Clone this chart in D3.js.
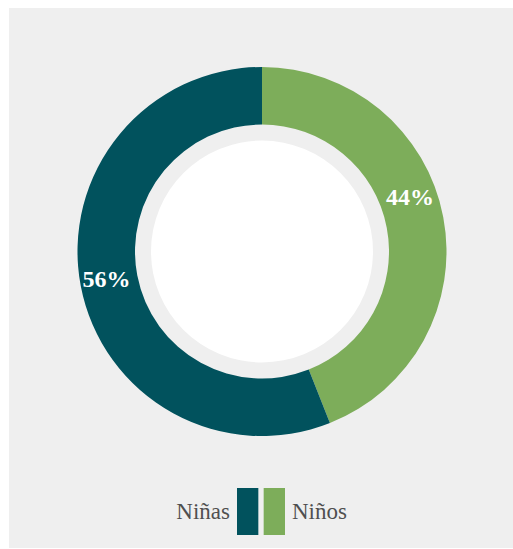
<!DOCTYPE html>
<html>
<head>
<meta charset="utf-8">
<script src="https://cdn.jsdelivr.net/npm/d3@7"></script>
<style>
  body { margin: 0; background: #fff; }
</style>
</head>
<body>
<svg class="chart" width="513" height="549"></svg>
<script>
const categories = ['Niños', 'Niñas'];
const values = [44, 56];
const colors = ['#7dad5a', '#01525d'];
const legendOrder = ['Niñas', 'Niños'];

const svg = d3.select('.chart');
const cx = 262;
const cy = 251.5;
const outerR = 184.5;
const innerR = 127;

// grey panel
svg.append('rect')
  .attr('x', 9).attr('y', 8)
  .attr('width', 504).attr('height', 540)
  .attr('fill', '#efefef');

const color = d3.scaleOrdinal().domain(categories).range(colors);

const pie = d3.pie().sort(null).value(d => d.value);
const arcs = pie(categories.map((c, i) => ({ name: c, value: values[i] })));

const arc = d3.arc().innerRadius(innerR).outerRadius(outerR);
const labelArc = d3.arc().innerRadius(innerR + 2).outerRadius(outerR + 2);

const g = svg.append('g').attr('transform', `translate(${cx}, ${cy})`);

g.selectAll('path.slice')
  .data(arcs)
  .enter()
  .append('path')
  .attr('class', 'slice')
  .attr('fill', d => color(d.data.name))
  .attr('d', arc);

// white centre
g.append('circle').attr('r', 111).attr('fill', '#fff');

// excel nudged the small slice's label up a bit
const labelShift = [-0.165, 0.015];
g.selectAll('text.pct')
  .data(arcs)
  .enter()
  .append('text')
  .attr('class', 'pct')
  .attr('transform', (d, i) => {
    const a = (d.startAngle + d.endAngle) / 2 + labelShift[i];
    const c = labelArc.centroid({ startAngle: a, endAngle: a });
    return `translate(${c[0]}, ${c[1]})`;
  })
  .attr('text-anchor', 'middle')
  .attr('dy', '0.35em')
  .attr('fill', '#fff')
  .attr('font-family', '"Liberation Serif", serif')
  .attr('font-weight', 'bold')
  .attr('font-size', '24px')
  .text(d => d.data.value + '%');

// legend
const legend = svg.append('g').attr('transform', 'translate(0, 488)');
const swatchX = d3.scaleBand().domain(legendOrder).range([237, 285]).paddingInner(0.2);

legend.selectAll('rect')
  .data(legendOrder)
  .enter()
  .append('rect')
  .attr('x', d => swatchX(d))
  .attr('y', 0)
  .attr('width', swatchX.bandwidth())
  .attr('height', 47)
  .attr('fill', d => color(d));

legend.selectAll('text')
  .data(legendOrder)
  .enter()
  .append('text')
  .attr('x', (d, i) => i === 0 ? swatchX(d) - 7 : swatchX(d) + swatchX.bandwidth() + 7)
  .attr('y', 30.5)
  .attr('text-anchor', (d, i) => i === 0 ? 'end' : 'start')
  .attr('fill', '#4f4f4f')
  .attr('font-family', '"Liberation Serif", serif')
  .attr('font-size', '23px')
  .text(d => d);
</script>
</body>
</html>
